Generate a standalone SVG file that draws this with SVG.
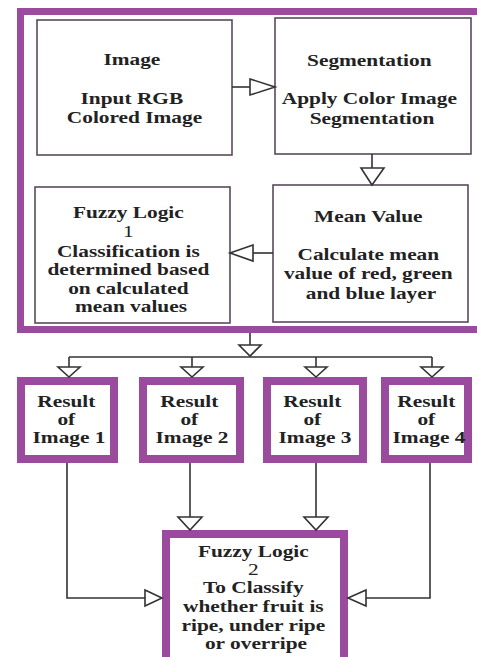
<svg xmlns="http://www.w3.org/2000/svg" width="477" height="657" viewBox="0 0 477 657">
  <style>
    .frame { fill: none; stroke: #9b4b9d; stroke-width: 7; }
    .box { fill: #ffffff; stroke: #5b4a5c; stroke-width: 1.6; }
    .rbox { fill: #ffffff; stroke: #9b4b9d; stroke-width: 8; }
    .lbl { font-family: "Liberation Serif", "Times New Roman", serif; font-size: 17.5px; font-weight: bold; fill: #222222; text-anchor: middle; }
    .num { font-weight: normal; }
    .wire { fill: none; stroke: #333333; stroke-width: 1.6; }
    .head { fill: #ffffff; stroke: #333333; stroke-width: 1.6; stroke-linejoin: miter; }
  </style>

  <rect x="0" y="0" width="477" height="657" fill="#ffffff"/>

  <!-- outer processing frame -->
  <g id="frame">
    <rect class="frame" x="20.5" y="11.5" width="480" height="318" fill="#fefbfe"/>
  </g>

  <g id="image">
    <rect class="box" x="37" y="20" width="195" height="135"/>
    <text class="lbl" transform="translate(134.5,0) scale(1.22,1)">
      <tspan x="0" y="65">Image</tspan>
      <tspan x="0" y="104">Input RGB</tspan>
      <tspan x="0" y="123">Colored Image</tspan>
    </text>
  </g>

  <g id="segmentation">
    <rect class="box" x="275" y="18" width="196" height="136"/>
    <text class="lbl" transform="translate(372,0) scale(1.22,1)">
      <tspan x="0" y="66">Segmentation</tspan>
      <tspan x="0" y="104">Apply Color Image</tspan>
      <tspan x="0" y="124">Segmentation</tspan>
    </text>
  </g>

  <g id="mean-value">
    <rect class="box" x="273" y="185" width="195" height="137"/>
    <text class="lbl" transform="translate(371,0) scale(1.22,1)">
      <tspan x="0" y="222">Mean Value</tspan>
      <tspan x="0" y="260">Calculate mean</tspan>
      <tspan x="0" y="279">value of red, green</tspan>
      <tspan x="0" y="299">and blue layer</tspan>
    </text>
  </g>

  <g id="fuzzy-logic-1">
    <rect class="box" x="35" y="187" width="195" height="136"/>
    <text class="lbl" transform="translate(131,0) scale(1.22,1)">
      <tspan x="0" y="218">Fuzzy Logic</tspan>
      <tspan x="0" y="237" class="num">1</tspan>
      <tspan x="0" y="257">Classification is</tspan>
      <tspan x="0" y="275">determined based</tspan>
      <tspan x="0" y="294">on calculated</tspan>
      <tspan x="0" y="312">mean values</tspan>
    </text>
  </g>

  <g id="result-1">
    <rect class="rbox" x="21" y="381" width="93" height="78"/>
    <text class="lbl" transform="translate(69,0) scale(1.22,1)">
      <tspan x="0" y="407">Result</tspan>
      <tspan x="0" y="425">of</tspan>
      <tspan x="0" y="443">Image 1</tspan>
    </text>
  </g>

  <g id="result-2">
    <rect class="rbox" x="143" y="381" width="97" height="78"/>
    <text class="lbl" transform="translate(192,0) scale(1.22,1)">
      <tspan x="0" y="407">Result</tspan>
      <tspan x="0" y="425">of</tspan>
      <tspan x="0" y="443">Image 2</tspan>
    </text>
  </g>

  <g id="result-3">
    <rect class="rbox" x="267" y="381" width="96" height="78"/>
    <text class="lbl" transform="translate(315,0) scale(1.22,1)">
      <tspan x="0" y="407">Result</tspan>
      <tspan x="0" y="425">of</tspan>
      <tspan x="0" y="443">Image 3</tspan>
    </text>
  </g>

  <g id="result-4">
    <rect class="rbox" x="385" y="381" width="83" height="78"/>
    <text class="lbl" transform="translate(429,0) scale(1.22,1)">
      <tspan x="0" y="407">Result</tspan>
      <tspan x="0" y="425">of</tspan>
      <tspan x="0" y="443">Image 4</tspan>
    </text>
  </g>

  <g id="fuzzy-logic-2">
    <rect class="rbox" x="166" y="534" width="178" height="140"/>
    <text class="lbl" transform="translate(256,0) scale(1.22,1)">
      <tspan x="0" y="557">Fuzzy Logic</tspan>
      <tspan x="0" y="575" class="num">2</tspan>
      <tspan x="0" y="593">To Classify</tspan>
      <tspan x="0" y="612">whether fruit is</tspan>
      <tspan x="0" y="631">ripe, under ripe</tspan>
      <tspan x="0" y="649">or overripe</tspan>
    </text>
  </g>

  <!-- connectors with hollow triangular heads -->
  <g id="connectors">
    <path class="wire" d="M232 87 H250"/>
    <polygon class="head" points="250,79 275,87 250,95"/>

    <path class="wire" d="M372 154 V168"/>
    <polygon class="head" points="361,168 384,168 372,185"/>

    <path class="wire" d="M273 253 H253"/>
    <polygon class="head" points="253,245 230,253 253,261"/>

    <path class="wire" d="M250 333 V345"/>
    <polygon class="head" points="239,345 261,345 250,356"/>
    <path class="wire" d="M69 357 H432"/>

    <path class="wire" d="M69 357 V367"/>
    <polygon class="head" points="58,367 80,367 69,377"/>
    <path class="wire" d="M192 357 V367"/>
    <polygon class="head" points="181,367 203,367 192,377"/>
    <path class="wire" d="M316 357 V367"/>
    <polygon class="head" points="305,367 327,367 316,377"/>
    <path class="wire" d="M432 357 V367"/>
    <polygon class="head" points="421,367 443,367 432,377"/>

    <path class="wire" d="M67 463 V598 H145"/>
    <polygon class="head" points="145,590 162,598 145,606"/>
    <path class="wire" d="M190 463 V517"/>
    <polygon class="head" points="178,517 202,517 190,530"/>
    <path class="wire" d="M316 463 V517"/>
    <polygon class="head" points="304,517 328,517 316,530"/>
    <path class="wire" d="M430 463 V598 H366"/>
    <polygon class="head" points="366,590 348,598 366,606"/>
  </g>
</svg>
